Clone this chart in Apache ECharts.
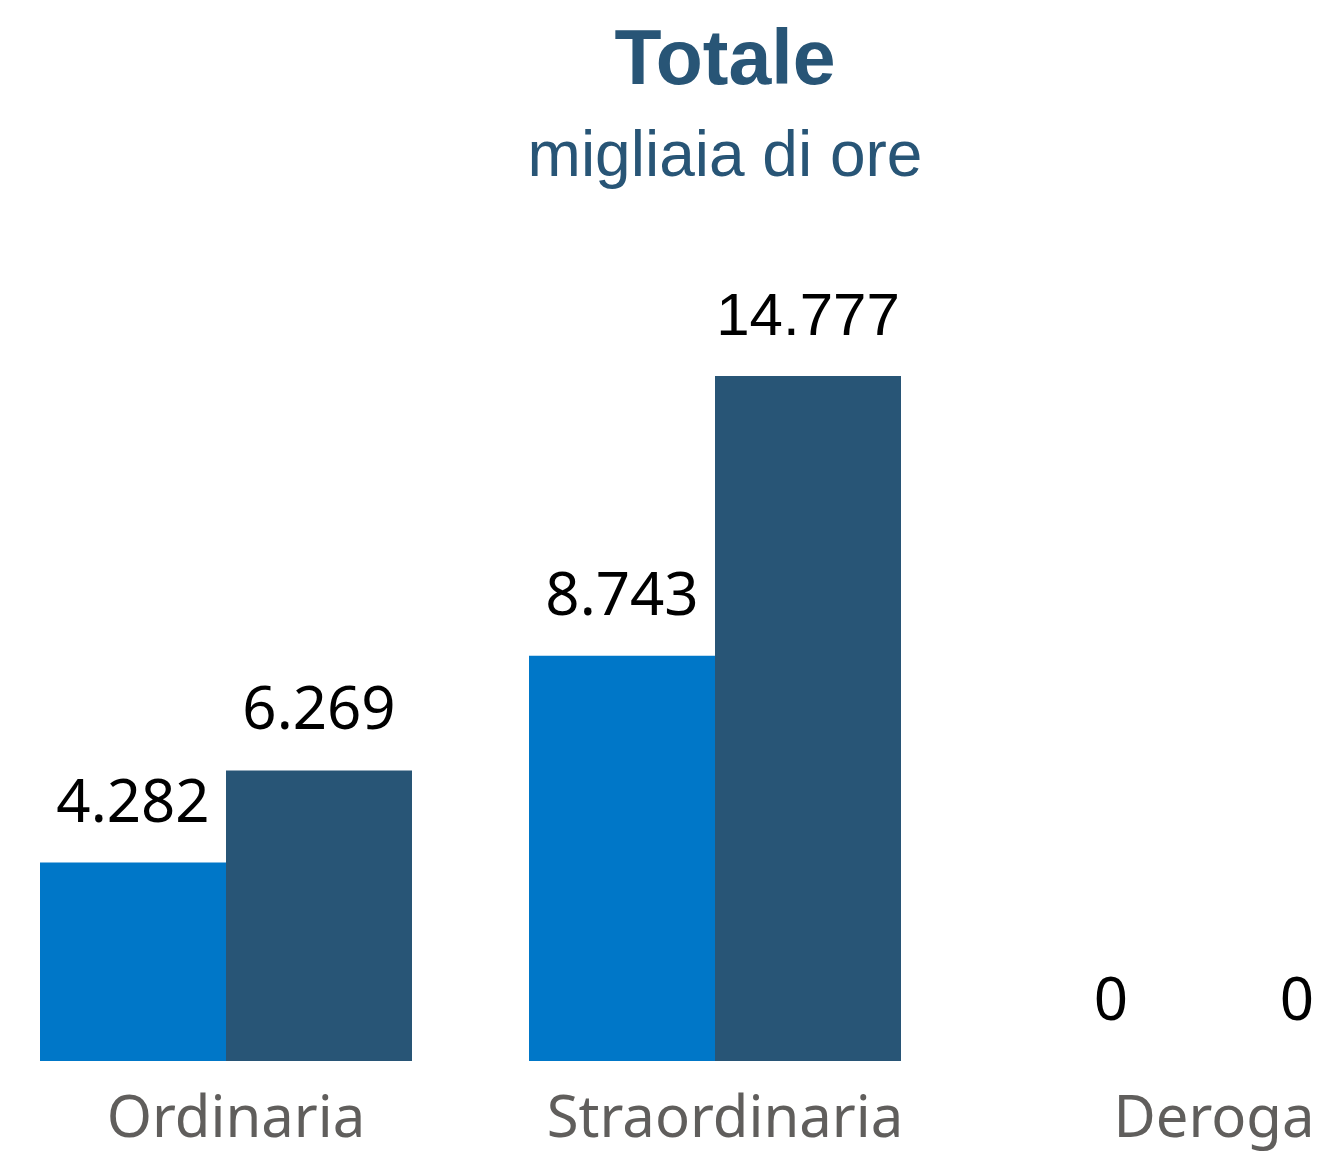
<!DOCTYPE html>
<html>
<head>
<meta charset="utf-8">
<script src="https://cdn.jsdelivr.net/npm/echarts@6/dist/echarts.min.js"></script>
<style>
html,body{margin:0;padding:0;background:#fff;}
#chart{width:1321px;height:1152px;}
</style>
</head>
<body>
<div id="chart"></div>
<script>
const categories = ['Ordinaria', 'Straordinaria', 'Deroga'];
const seriesNames = ['Periodo precedente', 'Periodo corrente'];
const valuesA = [4282, 8743, 0];
const valuesB = [6269, 14777, 0];
const titleText = 'Totale';
const subtitleText = 'migliaia di ore';

const fmt = v => {
  const s = String(Math.round(v));
  return s.replace(/\B(?=(\d{3})+(?!\d))/g, '.');
};

const chart = echarts.init(document.getElementById('chart'), null, {renderer: 'canvas'});

const labelBase = {
  show: true,
  position: 'top',
  distance: 28,
  color: '#000000',
  fontFamily: '"Noto Sans", sans-serif',
  fontSize: 60,
  formatter: p => fmt(p.value)
};

function mkData(arr) {
  return arr.map(v => ({value: v}));
}
const dataB = mkData(valuesB);
// the largest label is drawn in an Arial-like face in the reference
dataB[1].label = {fontFamily: '"Liberation Sans", Arial, sans-serif', fontSize: 60};

chart.setOption({
  animation: false,
  backgroundColor: '#ffffff',
  graphic: [
    {type: 'text', x: 725, y: 24, style: {text: titleText, fill: '#285576', font: 'bold 77px "Liberation Sans", Arial, sans-serif', textAlign: 'center', textVerticalAlign: 'top'}},
    {type: 'text', x: 725, y: 126, style: {text: subtitleText, fill: '#285576', font: '64px "Liberation Sans", Arial, sans-serif', textAlign: 'center', textVerticalAlign: 'top'}}
  ],
  grid: {left: -18.5, top: 376, width: 1467, height: 685, containLabel: false, outerBoundsMode: 'none'},
  xAxis: {
    type: 'category',
    data: categories,
    axisLine: {show: false},
    axisTick: {show: false},
    axisLabel: {
      interval: 0,
      color: '#605e5c',
      fontFamily: '"Noto Sans", sans-serif',
      fontSize: 58,
      margin: 30,
      padding: [0, 0, 0, 20],
      hideOverlap: false
    }
  },
  yAxis: {
    type: 'value',
    min: 0,
    max: 14777,
    show: false,
    splitLine: {show: false}
  },
  series: [
    {name: seriesNames[0], type: 'bar', data: mkData(valuesA), barWidth: 186, barGap: '0%', itemStyle: {color: '#0077c8'}, label: labelBase},
    {name: seriesNames[1], type: 'bar', data: dataB, barWidth: 186, barGap: '0%', itemStyle: {color: '#285576'}, label: labelBase}
  ]
});
</script>
</body>
</html>
